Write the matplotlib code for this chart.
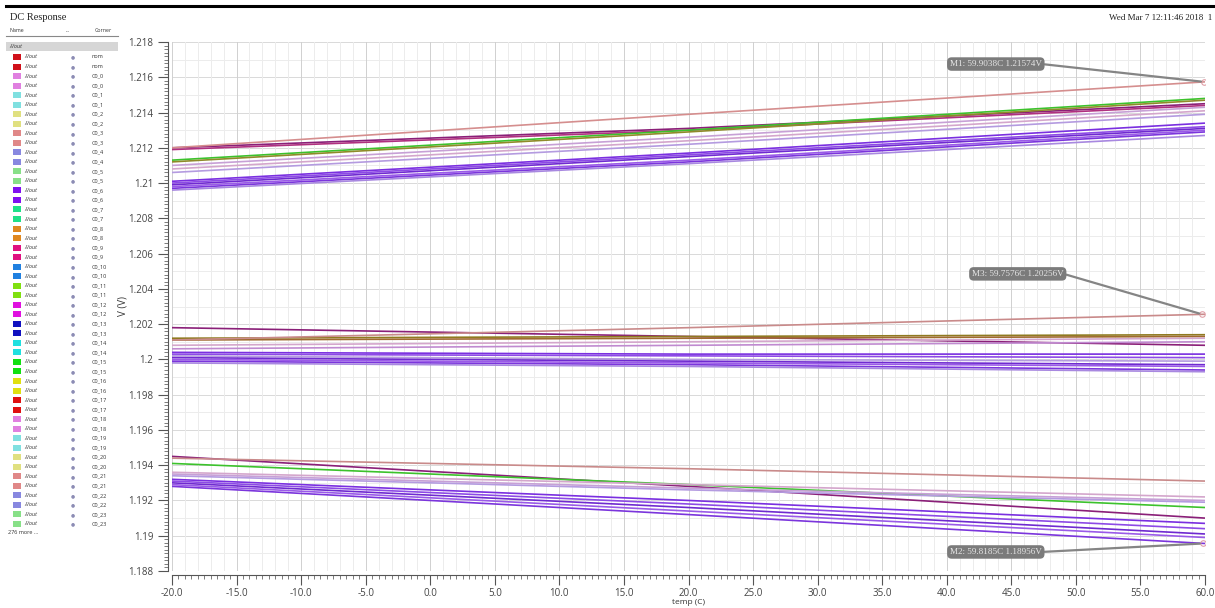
import numpy as np
import matplotlib
matplotlib.use("Agg")
import matplotlib.pyplot as plt
from matplotlib.patches import Rectangle
from matplotlib.lines import Line2D
from matplotlib.ticker import MultipleLocator, FuncFormatter

# ---------------- data ----------------
temp = [-20.0, 20.0, 60.0]

# upper output group (V at -20, 20, 60 C)
upper_vals = [
    [1.2120, 1.2131, 1.2145],
    [1.2119, 1.2130, 1.2144],
    [1.2113, 1.2130, 1.2148],
    [1.2112, 1.2129, 1.2147],
    [1.2110, 1.2126, 1.2143],
    [1.2108, 1.2124, 1.2141],
    [1.2106, 1.2122, 1.2139],
    [1.2101, 1.2117, 1.2134],
    [1.2100, 1.2116, 1.2132],
    [1.2099, 1.2115, 1.2131],
    [1.2098, 1.2113, 1.2130],
    [1.2097, 1.2112, 1.2129],
    [1.2096, 1.2111, 1.2127],
    [1.2120, 1.2139, 1.21574],
]
upper_colors = ["#8a1f78", "#b0307f", "#3cc22c", "#8f8a2a", "#c7a0d6", "#d4a6cc",
                "#b49be0", "#7a2fe0", "#8d4ae6", "#6f2ad0", "#9a5ae8", "#7b35dc",
                "#a888e0", "#d58e8e"]

# middle output group
middle_vals = [
    [1.2018, 1.2013, 1.2008],
    [1.2012, 1.2013, 1.2014],
    [1.2011, 1.2012, 1.2013],
    [1.2008, 1.2010, 1.2012],
    [1.2006, 1.2008, 1.2010],
    [1.2004, 1.2003, 1.2003],
    [1.2003, 1.2002, 1.2001],
    [1.2002, 1.2000, 1.1999],
    [1.2001, 1.1999, 1.1997],
    [1.2000, 1.1998, 1.1996],
    [1.1999, 1.1997, 1.1994],
    [1.1998, 1.1996, 1.1993],
    [1.2011, 1.2018, 1.20256],
]
middle_colors = ["#8a1f78", "#8f7a20", "#a06a30", "#d4a6cc", "#c08ad0",
                 "#7a2fe0", "#8d4ae6", "#b49be0", "#6f2ad0", "#9a5ae8",
                 "#7b35dc", "#a888e0", "#c98a8a"]

# lower output group
lower_vals = [
    [1.1945, 1.1928, 1.1910],
    [1.1941, 1.1929, 1.1916],
    [1.1936, 1.1929, 1.1922],
    [1.1935, 1.1927, 1.1920],
    [1.1934, 1.1926, 1.1919],
    [1.1932, 1.1920, 1.1907],
    [1.1931, 1.1918, 1.1904],
    [1.1930, 1.1916, 1.1901],
    [1.1929, 1.1914, 1.1899],
    [1.1928, 1.1912, 1.18956],
    [1.1944, 1.1938, 1.1931],
]
lower_colors = ["#8a1f78", "#3cc22c", "#d4a6cc", "#c7a0d6", "#b49be0",
                "#7a2fe0", "#8d4ae6", "#6f2ad0", "#9a5ae8", "#7b35dc", "#c98a8a"]

marker_names = ["M1", "M2", "M3"]
marker_temps = [59.9038, 59.8185, 59.7576]
marker_volts = [1.21574, 1.18956, 1.20256]

legend_corners = ["nom"] + [f"C0_{i}" for i in range(24)]
legend_colors = ["#d0101a", "#e080e0", "#80e0e0", "#e0e080", "#e08888", "#8888e0",
                 "#88e088", "#8010f0", "#20e088", "#e08820", "#e01080", "#2080e0",
                 "#80e010", "#e010e0", "#1010c0", "#20e0e0", "#10e010", "#e0e010",
                 "#e01010", "#e080e0", "#80e0e0", "#e0e080", "#e08888", "#8888e0",
                 "#88e088"]

# ---------------- figure ----------------
W, H = 1215, 608
fig = plt.figure(figsize=(W / 100, H / 100), dpi=100)
fig.patch.set_facecolor("white")


def fx(x):
    return x / W


def fy(y):
    return 1 - y / H


serif = ["Liberation Serif", "DejaVu Serif"]
sans = ["Open Sans", "DejaVu Sans"]

# header rule and texts
fig.add_artist(Line2D([fx(6), fx(1215)], [fy(6), fy(6)], color="black", lw=2.2))
fig.text(fx(10), fy(18), "DC Response", fontsize=7.5, family=serif, color="#222", va="center")
fig.text(fx(1212), fy(18), "Wed Mar 7 12:11:46 2018  1", fontsize=6.5, family=serif,
         color="#222", ha="right", va="center")

# browser panel
fig.text(fx(10), fy(31), "Name", fontsize=3.8, family=sans, color="#333", va="center")
fig.text(fx(66), fy(31), "...", fontsize=3.8, family=sans, color="#333", va="center")
fig.text(fx(95), fy(31), "Corner", fontsize=3.8, family=sans, color="#333", va="center")
fig.add_artist(Line2D([fx(6), fx(118)], [fy(36), fy(36)], color="#888", lw=0.8))
fig.add_artist(Rectangle((fx(6), fy(51)), fx(112), 9 / H, color="#d6d6d6", lw=0))
fig.text(fx(9), fy(46.5), "/Vout", fontsize=4, family=sans, color="#333",
         style="italic", va="center")

row0, step = 57.0, 9.53
row = 0
for name, col in zip(legend_corners, legend_colors):
    for _ in range(2):
        y = row0 + row * step
        fig.add_artist(Rectangle((fx(13), fy(y + 3)), fx(8), 6 / H, color=col, lw=0))
        fig.text(fx(24), fy(y), "/Vout", fontsize=4, family=sans, color="#333",
                 style="italic", va="center")
        fig.text(fx(73), fy(y), "●", fontsize=3.4, family=["DejaVu Sans"],
                 color="#8c8cb4", va="center", ha="center")
        fig.text(fx(92), fy(y), name, fontsize=4, family=sans, color="#333", va="center")
        row += 1
fig.text(fx(8), fy(533), "276 more ...", fontsize=4, family=sans, color="#333", va="center")

# ---------------- plot area ----------------
ax = fig.add_axes([fx(172), fy(571), fx(1205 - 172), (571 - 42) / H])
ax.set_xlim(-20, 60)
ax.set_ylim(1.188, 1.218)

for v in np.arange(1.188, 1.2181, 0.001):
    major = abs(round(v / 0.002) * 0.002 - v) < 1e-7
    ax.axhline(v, color="#d9d9d9" if major else "#ececec", lw=0.7, zorder=0)
for t in np.arange(-20, 60.1, 1.0):
    major = abs(t % 5) < 1e-9
    ax.axvline(t, color="#d0d0d0" if major else "#ececec", lw=0.7, zorder=0)

for vals_group, cols in ((upper_vals, upper_colors), (middle_vals, middle_colors),
                         (lower_vals, lower_colors)):
    for vals, c in zip(vals_group, cols):
        ax.plot(temp, vals, color=c, lw=1.2, solid_capstyle="butt", zorder=2)

# markers
text_pos = {"M1": (43.8, 1.21675), "M2": (43.8, 1.18908), "M3": (45.5, 1.20485)}
for name, t, v in zip(marker_names, marker_temps, marker_volts):
    ax.plot([t], [v], marker="o", ms=4, mfc="none", mec="#e0a0a8", mew=0.8, zorder=4)
    ax.annotate(f"{name}: {t:.4f}C {v:.5f}V", xy=(t, v), xytext=text_pos[name],
                textcoords="data", fontsize=6.6, family=serif, color="#e6e6e6",
                ha="center", va="center", zorder=5,
                bbox=dict(boxstyle="round,pad=0.3,rounding_size=0.5", fc="#7b7b7b", ec="none"),
                arrowprops=dict(arrowstyle="-", color="#858585", lw=1.6,
                                relpos=(1.0, 0.5), shrinkA=0, shrinkB=2))

for s in ("top", "right"):
    ax.spines[s].set_visible(False)
ax.spines["left"].set_position(("outward", 3))
ax.spines["bottom"].set_position(("outward", 3))
for s in ("left", "bottom"):
    ax.spines[s].set_color("#555")
    ax.spines[s].set_linewidth(0.8)

ax.xaxis.set_major_locator(MultipleLocator(5))
ax.xaxis.set_minor_locator(MultipleLocator(0.5))
ax.yaxis.set_major_locator(MultipleLocator(0.002))
ax.yaxis.set_minor_locator(MultipleLocator(0.0002))
ax.xaxis.set_major_formatter(FuncFormatter(lambda v, p: f"{v:.1f}"))
ax.yaxis.set_major_formatter(FuncFormatter(lambda v, p: f"{v:.3f}".rstrip("0").rstrip(".")))
ax.tick_params(which="major", length=7, width=0.8, color="#555", labelsize=7,
               labelcolor="#444", direction="out")
ax.tick_params(axis="x", which="major", pad=2)
ax.tick_params(which="minor", length=3, width=0.6, color="#666", direction="out")
for lab in ax.get_xticklabels() + ax.get_yticklabels():
    lab.set_family(sans)

ax.set_ylabel("V (V)", fontsize=7, family=sans, color="#333", labelpad=0)
ax.set_xlabel("temp (C)", fontsize=6, family=sans, color="#333", labelpad=0)

fig.savefig("out.png", dpi=100, facecolor="white")
